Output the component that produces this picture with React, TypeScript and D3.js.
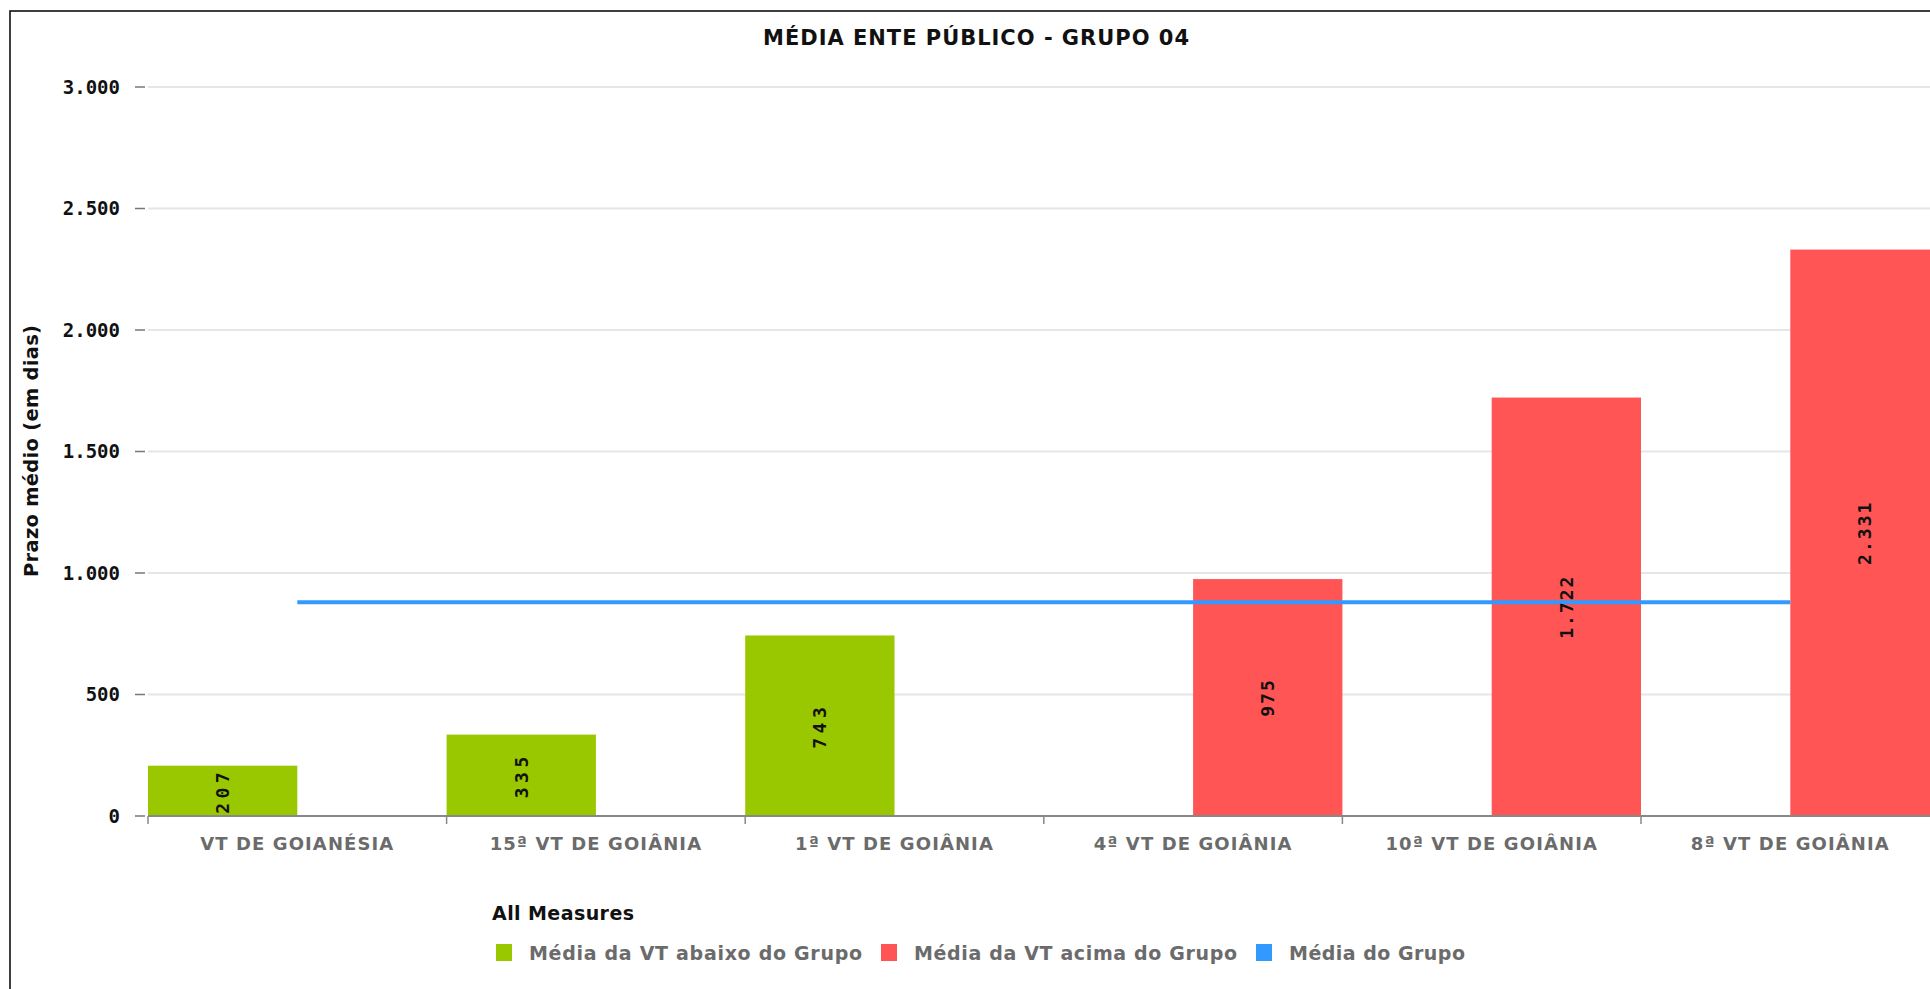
import React from "react";
import * as d3 from "d3";

const categories = [
  "VT DE GOIANÉSIA",
  "15ª VT DE GOIÂNIA",
  "1ª VT DE GOIÂNIA",
  "4ª VT DE GOIÂNIA",
  "10ª VT DE GOIÂNIA",
  "8ª VT DE GOIÂNIA",
];
const belowGroup: (number | null)[] = [207, 335, 743, null, null, null];
const aboveGroup: (number | null)[] = [null, null, null, 975, 1722, 2331];
const groupMean = [880, 880, 880, 880, 880, 880];
const yTicks = [0, 500, 1000, 1500, 2000, 2500, 3000];
const seriesNames = [
  "Média da VT abaixo do Grupo",
  "Média da VT acima do Grupo",
  "Média do Grupo",
];
const titleText = "MÉDIA ENTE PÚBLICO - GRUPO 04";
const yTitle = "Prazo médio (em dias)";
const legendTitle = "All Measures";

const COLORS = ["#99C700", "#FF5555", "#3399FF"];

const locale = d3.formatLocale({
  decimal: ",",
  thousands: ".",
  grouping: [3],
  currency: ["R$", ""],
});
const fmt = locale.format(",d");

export default function App() {
  const W = 1930;
  const H = 989;
  const left = 148;
  const band = 298.6;
  const x = d3
    .scaleBand<string>()
    .domain(categories)
    .range([left, left + band * categories.length])
    .paddingInner(0)
    .paddingOuter(0);
  const sub = d3
    .scaleBand<string>()
    .domain(["below", "above"])
    .range([0, x.bandwidth()]);
  const y = d3.scaleLinear().domain([0, 3000]).range([816, 87]);

  const line = d3
    .line<number>()
    .x((_, i) => (x(categories[i]) as number) + x.bandwidth() / 2)
    .y((d) => y(d));

  const bars: { key: string; cat: string; v: number; color: string; series: string }[] = [];
  categories.forEach((c, i) => {
    if (belowGroup[i] != null)
      bars.push({ key: "b" + i, cat: c, v: belowGroup[i] as number, color: COLORS[0], series: "below" });
    if (aboveGroup[i] != null)
      bars.push({ key: "a" + i, cat: c, v: aboveGroup[i] as number, color: COLORS[1], series: "above" });
  });

  const sans = "'DejaVu Sans', Verdana, sans-serif";
  const mono = "'DejaVu Sans Mono', monospace";
  const legendX = [496, 881, 1256];
  const legendW = [333, 323, 176];

  return (
    <svg
      width={W}
      height={H}
      style={{ position: "absolute", left: 0, top: 0, background: "#fff" }}
    >
      <rect x={10} y={11} width={W + 40} height={H + 40} fill="#fff" stroke="#000" strokeWidth={1.5} />
      {/* title */}
      <text
        x={976}
        y={45}
        textAnchor="middle"
        fontFamily={sans}
        fontWeight="bold"
        fontSize={21}
        fill="#111"
        textLength={426}
      >
        {titleText}
      </text>
      {/* gridlines */}
      {yTicks.filter((t) => t > 0).map((t) => (
        <line key={"g" + t} x1={left} x2={W} y1={y(t)} y2={y(t)} stroke="#e6e6e6" strokeWidth={2} />
      ))}
      {/* y ticks */}
      {yTicks.map((t) => (
        <g key={"t" + t}>
          <line x1={135} x2={145} y1={y(t)} y2={y(t)} stroke="#777" strokeWidth={1.5} />
          <text
            x={120}
            y={y(t)}
            dy="0.36em"
            textAnchor="end"
            fontFamily={mono}
            fontWeight="bold"
            fontSize={19}
            fill="#111"
          >
            {fmt(t)}
          </text>
        </g>
      ))}
      {/* y title */}
      <text
        transform={`translate(38, ${451}) rotate(-90)`}
        textAnchor="middle"
        fontFamily={sans}
        fontWeight="bold"
        fontSize={19.5}
        fill="#111"
        textLength={252}
      >
        {yTitle}
      </text>
      {/* bars */}
      {bars.map((b) => (
        <rect
          key={b.key}
          x={(x(b.cat) as number) + (sub(b.series) as number)}
          y={y(b.v)}
          width={sub.bandwidth()}
          height={y(0) - y(b.v)}
          fill={b.color}
        />
      ))}
      {/* x axis */}
      <line x1={left} x2={W} y1={y(0)} y2={y(0)} stroke="#888" strokeWidth={2} />
      {categories.map((c) => (
        <line
          key={"xt" + c}
          x1={x(c) as number}
          x2={x(c) as number}
          y1={y(0)}
          y2={y(0) + 8}
          stroke="#888"
          strokeWidth={1.5}
        />
      ))}
      {categories.map((c) => (
        <text
          key={"xl" + c}
          x={(x(c) as number) + x.bandwidth() / 2}
          y={850}
          textAnchor="middle"
          fontFamily={sans}
          fontWeight="bold"
          fontSize={18}
          letterSpacing={1.1}
          fill="#6b6b6b"
        >
          {c}
        </text>
      ))}
      {/* mean line */}
      <path d={line(groupMean) as string} fill="none" stroke={COLORS[2]} strokeWidth={4} />
      {/* value labels */}
      {bars.map((b) => {
        const cx = (x(b.cat) as number) + (sub(b.series) as number) + sub.bandwidth() / 2;
        const cy = (y(b.v) + y(0)) / 2;
        return (
          <text
            key={"v" + b.key}
            transform={`translate(${cx}, ${cy}) rotate(-90)`}
            textAnchor="middle"
            dy="0.36em"
            fontFamily={mono}
            fontWeight="bold"
            fontSize={18}
            letterSpacing={b.series === "below" ? 4.5 : 2}
            fill="#111"
          >
            {fmt(b.v)}
          </text>
        );
      })}
      {/* legend */}
      <text x={492} y={920} fontFamily={sans} fontWeight="bold" fontSize={19} fill="#111" textLength={142}>
        {legendTitle}
      </text>
      {seriesNames.map((s, i) => (
        <g key={"lg" + i}>
          <rect x={legendX[i]} y={944} width={16} height={17} fill={COLORS[i]} />
          <text
            x={legendX[i] + 33}
            y={960}
            fontFamily={sans}
            fontWeight="bold"
            fontSize={19}
            fill="#6b6b6b"
            textLength={legendW[i]}
          >
            {s}
          </text>
        </g>
      ))}
    </svg>
  );
}
